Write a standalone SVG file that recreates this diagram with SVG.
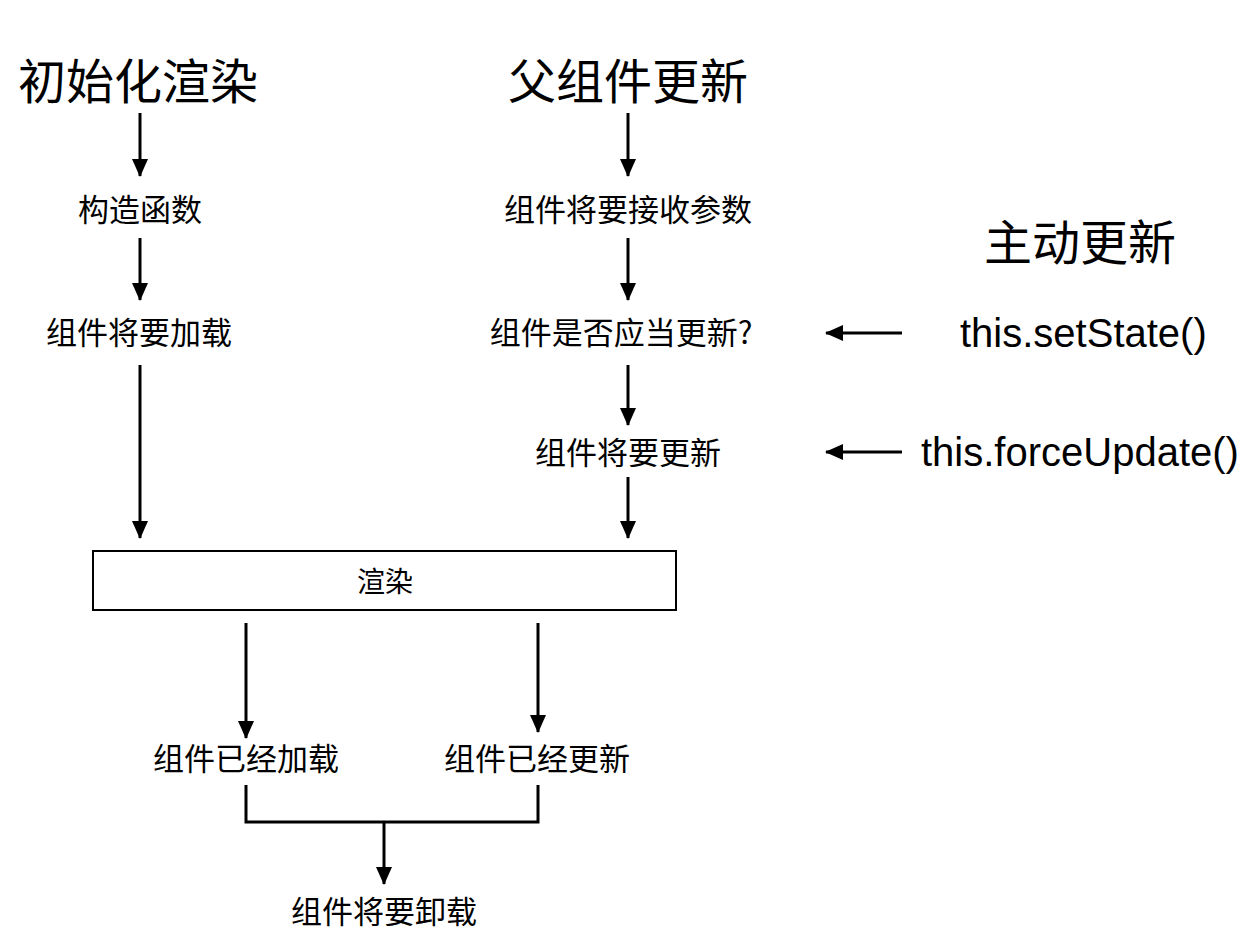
<svg xmlns="http://www.w3.org/2000/svg" width="1254" height="946" viewBox="0 0 1254 946">
<style>
.cjk{font-family:"Noto Sans CJK SC","Noto Sans",sans-serif;fill:#000;text-anchor:middle}
.t48{font-size:48px}
.t30{font-size:31px}
.t28{font-size:28px}
.code{font-family:"Liberation Sans",Arial,sans-serif;font-size:40px;fill:#000}
.ln{stroke:#000;stroke-width:3;fill:none}
</style>
<defs>
<marker id="ah" markerUnits="userSpaceOnUse" markerWidth="18" markerHeight="16" refX="17" refY="8" orient="auto" viewBox="0 0 18 16">
<path d="M0,0 L18,8 L0,16 Z" fill="#000"/>
</marker>
</defs>
<rect width="1254" height="946" fill="#fff"/>
<g id="connectors">
<line class="ln" x1="140" y1="113" x2="140" y2="176" marker-end="url(#ah)"/>
<line class="ln" x1="140" y1="238" x2="140" y2="300" marker-end="url(#ah)"/>
<line class="ln" x1="140" y1="365" x2="140" y2="538" marker-end="url(#ah)"/>
<line class="ln" x1="628" y1="113" x2="628" y2="176" marker-end="url(#ah)"/>
<line class="ln" x1="628" y1="238" x2="628" y2="300" marker-end="url(#ah)"/>
<line class="ln" x1="628" y1="365" x2="628" y2="425" marker-end="url(#ah)"/>
<line class="ln" x1="628" y1="477" x2="628" y2="538" marker-end="url(#ah)"/>
<line class="ln" x1="902" y1="333" x2="826" y2="333" marker-end="url(#ah)"/>
<line class="ln" x1="902" y1="452" x2="826" y2="452" marker-end="url(#ah)"/>
<line class="ln" x1="246" y1="623" x2="246" y2="738" marker-end="url(#ah)"/>
<line class="ln" x1="538" y1="623" x2="538" y2="732" marker-end="url(#ah)"/>
<path class="ln" d="M246,785 V822 H538 V785"/>
<line class="ln" x1="384" y1="822" x2="384" y2="884" marker-end="url(#ah)"/>
</g>
<g id="title-init"><text class="cjk t48" x="138" y="99">初始化渲染</text></g>
<g id="title-parent"><text class="cjk t48" x="628" y="99">父组件更新</text></g>
<g id="title-active"><text class="cjk t48" x="1080" y="260">主动更新</text></g>
<g id="constructor"><text class="cjk t30" x="140" y="221">构造函数</text></g>
<g id="will-mount"><text class="cjk t30" x="139" y="344">组件将要加载</text></g>
<g id="will-receive"><text class="cjk t30" x="628" y="221">组件将要接收参数</text></g>
<g id="should-update"><text class="cjk t30" x="621" y="344">组件是否应当更新?</text></g>
<g id="will-update"><text class="cjk t30" x="628" y="464">组件将要更新</text></g>
<g id="set-state"><text class="code" x="960" y="347">this.setState()</text></g>
<g id="force-update"><text class="code" x="921" y="466">this.forceUpdate()</text></g>
<g id="render">
<rect x="93" y="551" width="583" height="59" fill="#fff" stroke="#000" stroke-width="2"/>
<text class="cjk t28" x="385" y="592">渲染</text>
</g>
<g id="did-mount"><text class="cjk t30" x="246" y="770">组件已经加载</text></g>
<g id="did-update"><text class="cjk t30" x="537" y="770">组件已经更新</text></g>
<g id="will-unmount"><text class="cjk t30" x="384" y="923">组件将要卸载</text></g>
</svg>
